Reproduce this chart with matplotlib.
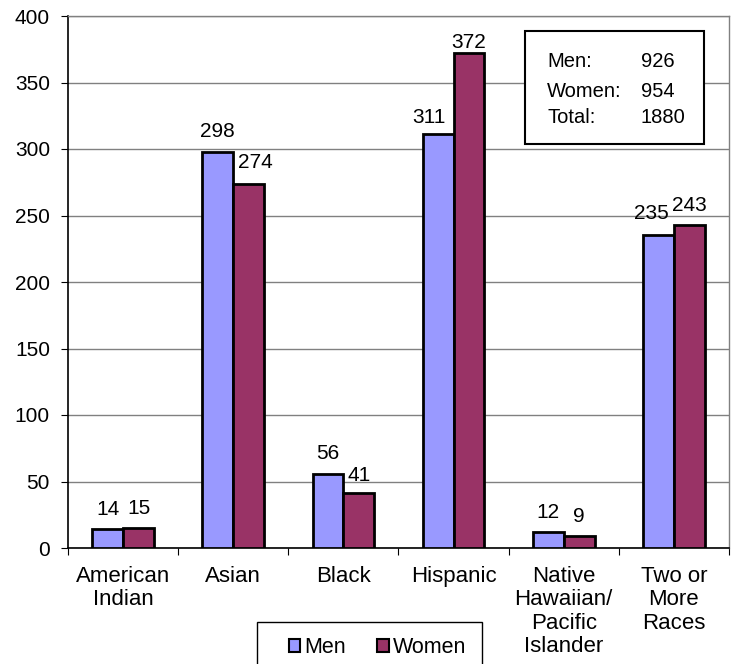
import matplotlib
matplotlib.use("Agg")
import matplotlib.pyplot as plt
from matplotlib.patches import Patch, Rectangle
import numpy as np

categories = ["American\nIndian", "Asian", "Black", "Hispanic",
              "Native\nHawaiian/\nPacific\nIslander", "Two or\nMore\nRaces"]
men = [14, 298, 56, 311, 12, 235]
women = [15, 274, 41, 372, 9, 243]
summary_labels = ["Men:", "Women:", "Total:"]
summary_values = ["926", "954", "1880"]
yticks = [0, 50, 100, 150, 200, 250, 300, 350, 400]

# label offsets in points (style only)
men_off = [(0, 7.5), (0, 7.5), (0, 7.5), (-7, 5.3), (0, 7.5), (-5.4, 8.9)]
women_off = [(0, 7.5), (5, 8.4), (0, 6.4), (0, 1.1), (0, 7.5), (0, 6.8)]

plt.rcParams['font.family'] = ['Liberation Sans', 'DejaVu Sans']
FS = 15
FS_CAT = 16
FS_BOX = 14.5
FS_LEG = 15.5

fig = plt.figure(figsize=(7.35, 6.64), dpi=100)
L, R, T, B = 68, 729, 16, 548
ax = fig.add_axes([L/735, 1-B/664, (R-L)/735, (B-T)/664])

x = np.arange(len(categories))
w = 0.28
men_color = "#9999FF"
women_color = "#993366"
bm = ax.bar(x - w/2, men, w, color=men_color, edgecolor="black", linewidth=2, zorder=3)
bw = ax.bar(x + w/2, women, w, color=women_color, edgecolor="black", linewidth=2, zorder=3)

for rect, v, off in zip(bm, men, men_off):
    ax.annotate(str(v), (rect.get_x() + rect.get_width()/2, v), xytext=off,
                textcoords="offset points", ha="center", va="bottom", fontsize=FS, zorder=6)
for rect, v, off in zip(bw, women, women_off):
    ax.annotate(str(v), (rect.get_x() + rect.get_width()/2, v), xytext=off,
                textcoords="offset points", ha="center", va="bottom", fontsize=FS, zorder=6)

ax.set_xlim(-0.5, len(categories) - 0.5)
ax.set_ylim(0, 400)
ax.set_yticks(yticks)
ax.set_yticklabels([str(t) for t in yticks], fontsize=FS)
ax.yaxis.grid(True, color="#808080", linewidth=1, zorder=0)
ax.set_axisbelow(True)

ax.set_xticks(np.arange(len(categories) + 1) - 0.5)
ax.set_xticklabels([])
ax.set_xticks(x, minor=True)
ax.set_xticklabels(categories, minor=True, fontsize=FS_CAT, linespacing=1.15, va="top")
ax.tick_params(axis="x", which="minor", length=0, pad=13)
ax.tick_params(axis="x", which="major", length=5, direction="out", color="black")
ax.tick_params(axis="y", length=5, direction="out", pad=8)

for s in ["top", "right"]:
    ax.spines[s].set_color("#808080")
    ax.spines[s].set_linewidth(1)
for s in ["left", "bottom"]:
    ax.spines[s].set_color("black")
    ax.spines[s].set_linewidth(1.2)

# summary box
box = Rectangle((525/735, 1-144/664), (704-525)/735, (144-31)/664, transform=fig.transFigure,
                facecolor="white", edgecolor="black", linewidth=1.5, zorder=5)
fig.add_artist(box)
ys = [67, 97, 123]
for lab, val, yy in zip(summary_labels, summary_values, ys):
    fig.text(547/735, 1-yy/664, lab, fontsize=FS_BOX, va="baseline", ha="left", zorder=6)
    fig.text(641/735, 1-yy/664, val, fontsize=FS_BOX, va="baseline", ha="left", zorder=6)

# legend frame
lframe = Rectangle((257/735, 1-700/664), (482-257)/735, (700-622)/664, transform=fig.transFigure,
                   facecolor="white", edgecolor="black", linewidth=1.0, zorder=5)
fig.add_artist(lframe)
handles = [Patch(facecolor=men_color, edgecolor="black", linewidth=1.5),
           Patch(facecolor=women_color, edgecolor="black", linewidth=1.5)]
leg = fig.legend(handles, ["Men", "Women"], loc="upper left",
                 bbox_to_anchor=(289/735, 1-637/664), ncol=2, fontsize=FS_LEG,
                 frameon=False, borderpad=0, borderaxespad=0,
                 handlelength=0.52, handleheight=0.52, handletextpad=0.2, columnspacing=1.45)
leg.set_zorder(7)

fig.savefig("out.png", dpi=100)
